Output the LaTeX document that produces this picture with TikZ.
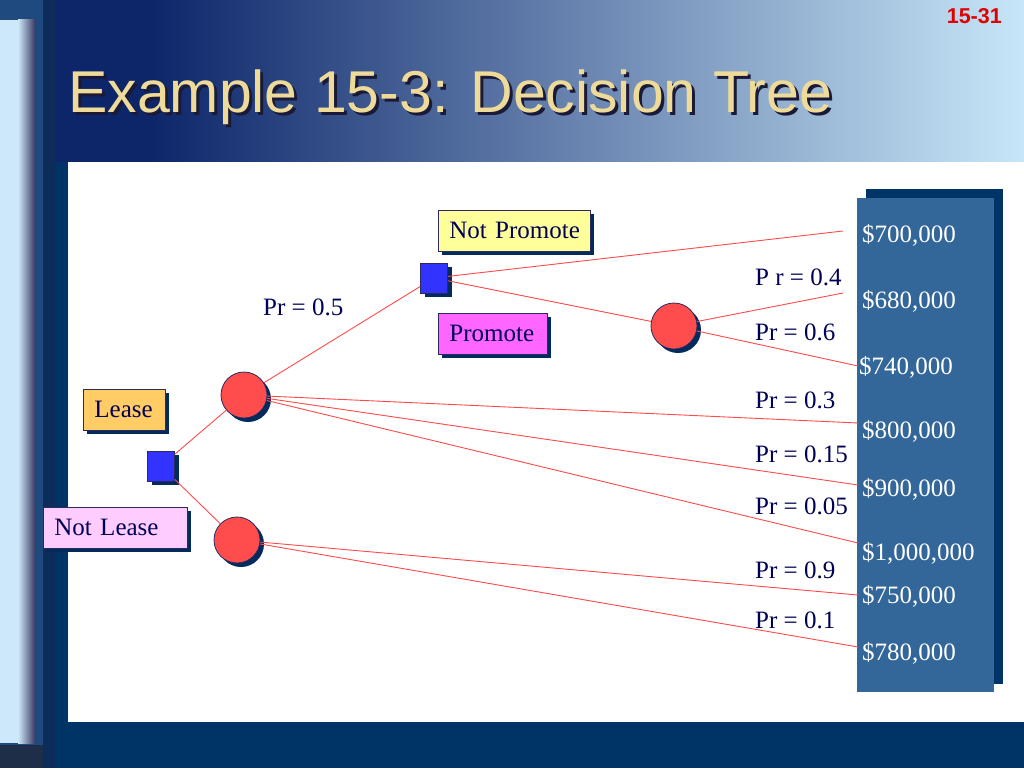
\documentclass[tikz,border=0pt]{standalone}
\usepackage{fontspec}
\setmainfont{Liberation Serif}
\newfontfamily\titlefont{Liberation Sans}
\usetikzlibrary{shadows}
\definecolor{navy}{HTML}{003366}
\definecolor{steel}{HTML}{336699}
\definecolor{topdark}{HTML}{0D266A}
\definecolor{toplight}{HTML}{C8E6F8}
\definecolor{stripl}{HTML}{CCE8FA}
\definecolor{stripd}{HTML}{3A3A62}
\definecolor{colA}{HTML}{1F4A80}
\definecolor{colB}{HTML}{0E2C5A}
\definecolor{colC}{HTML}{1E2E48}
\definecolor{titlec}{HTML}{EEDB9A}
\definecolor{titlesh}{HTML}{1A1A38}
\definecolor{txt}{HTML}{000055}
\definecolor{edge}{HTML}{2A2A5E}
\definecolor{shadowc}{HTML}{002B5C}
\definecolor{linec}{HTML}{FF4A4A}
\definecolor{chance}{HTML}{FF4D4D}
\definecolor{decide}{HTML}{3333FF}
\definecolor{ylw}{HTML}{FFFF99}
\definecolor{mag}{HTML}{FF66FF}
\definecolor{org}{HTML}{FFCC66}
\definecolor{pnk}{HTML}{FFCCFF}
\definecolor{numred}{HTML}{E00000}
\tikzset{
  shad/.style={drop shadow={shadow xshift=4pt,shadow yshift=-4pt,fill=shadowc,opacity=1}},
  lbl/.style={font=\fontsize{25}{29}\selectfont, text=txt, inner sep=0pt, anchor=base west},
  val/.style={font=\fontsize{25}{29}\selectfont, text=white, inner sep=0pt, anchor=base west},
  labelbox/.style={draw=edge, line width=0.8pt, shad, font=\fontsize{25}{29}\selectfont, text=txt,
    inner xsep=11pt, inner ysep=0pt, minimum height=41pt, align=left, anchor=north west},
  chancenode/.style={circle, minimum size=46pt, inner sep=0pt, fill=chance, draw=edge, line width=0.8pt, shad},
  decnode/.style={rectangle, minimum width=27pt, minimum height=30pt, inner sep=0pt, fill=decide, draw=edge, line width=0.8pt, shad},
  branch/.style={draw=linec, line width=0.9pt}
}
\begin{document}
\begin{tikzpicture}[x=1pt,y=-1pt]
\useasboundingbox (0,0) rectangle (1024,768);
% background
\fill[navy] (0,0) rectangle (1024,768);
\fill[colA] (0,0) rectangle (43,745);
\fill[colC] (0,745) rectangle (43,768);
\fill[colB] (43,0) rectangle (55,768);
\fill[stripl] (0,20) rectangle (18,743);
\shade[left color=stripl, right color=stripd] (18,20) rectangle (35,743);
\fill[topdark] (55,0) rectangle (150,162);
\shade[left color=topdark, right color=toplight] (150,0) rectangle (1024,162);
\fill[white] (68,162) rectangle (1024,722);
% title
\node[font=\titlefont\fontsize{59}{63}\selectfont, text=titlesh, inner sep=0pt, anchor=base west] at (71,115) {Example 15-3: Decision Tree};
\node[font=\titlefont\fontsize{59}{63}\selectfont, text=titlec, inner sep=0pt, anchor=base west] (title) at (68,112) {Example 15-3: Decision Tree};
\node[font=\titlefont\bfseries\fontsize{21.5}{24}\selectfont, text=numred, inner sep=0pt, anchor=base east] (pagenum) at (1002,24) {15-31};
% payoff column
\fill[navy] (866,189) rectangle (1003,684);
\fill[steel] (857,198) rectangle (994,692);
\node[val] (v1) at (862,242) {\$700,000};
\node[val] (v2) at (862,308) {\$680,000};
\node[val] (v3) at (859,374) {\$740,000};
\node[val] (v4) at (862,438) {\$800,000};
\node[val] (v5) at (862,496) {\$900,000};
\node[val] (v6) at (862,560) {\$1,000,000};
\node[val] (v7) at (862,603) {\$750,000};
\node[val] (v8) at (862,660) {\$780,000};
% label boxes
\node[labelbox, fill=ylw, text width=130pt] (notpromote) at (438,210) {\mbox{Not Promote}};
\node[labelbox, fill=mag, text width=87pt] (promote) at (438,313) {\mbox{Promote}};
\node[labelbox, fill=org, text width=60pt] (lease) at (83,389) {\mbox{Lease}};
\node[labelbox, fill=pnk, text width=122pt] (notlease) at (43,507) {\mbox{Not Lease}};
% tree nodes
\node[decnode] (d1) at (161,466) {};
\node[decnode] (d2) at (434,278) {};
\node[chancenode] (cA) at (244,395) {};
\node[chancenode] (cB) at (237,540) {};
\node[chancenode] (cC) at (674,326) {};
% free ends
\coordinate (e1) at (843,231);
\coordinate (e2) at (843,293);
\coordinate (e3) at (858,366);
\coordinate (e4) at (858,423);
\coordinate (e5) at (858,485);
\coordinate (e6) at (858,543);
\coordinate (e7) at (858,595);
\coordinate (e8) at (858,647);
% branches
\draw[branch] (d1) -- (cA);
\draw[branch] (d1) -- (cB);
\draw[branch] (cA) -- (d2);
\draw[branch] (d2) -- (e1);
\draw[branch] (d2) -- (cC);
\draw[branch] (cC) -- (e2);
\draw[branch] (cC) -- (e3);
\draw[branch] (cA) -- (e4);
\draw[branch] (cA) -- (e5);
\draw[branch] (cA) -- (e6);
\draw[branch] (cB) -- (e7);
\draw[branch] (cB) -- (e8);
% probability labels
\node[lbl] (p05) at (263,315) {Pr = 0.5};
\node[lbl] (p04) at (755,285) {P r = 0.4};
\node[lbl] (p06) at (755,340) {Pr = 0.6};
\node[lbl] (p03) at (755,408) {Pr = 0.3};
\node[lbl] (p015) at (755,462) {Pr = 0.15};
\node[lbl] (p005) at (755,514) {Pr = 0.05};
\node[lbl] (p09) at (755,578) {Pr = 0.9};
\node[lbl] (p01) at (755,628) {Pr = 0.1};
\end{tikzpicture}
\end{document}
